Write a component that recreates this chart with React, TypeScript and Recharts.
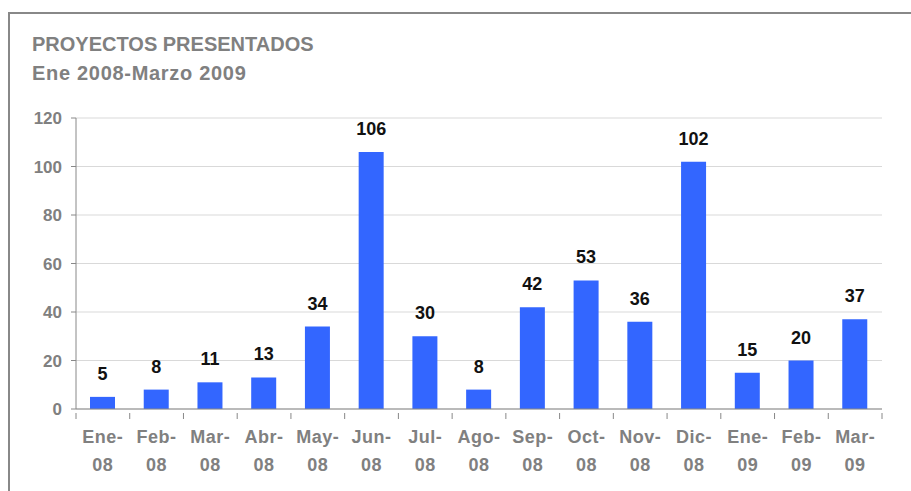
import React from 'react';
import { BarChart, Bar, XAxis, YAxis, CartesianGrid, LabelList } from 'recharts';

const months = ['Ene-08', 'Feb-08', 'Mar-08', 'Abr-08', 'May-08', 'Jun-08', 'Jul-08', 'Ago-08', 'Sep-08', 'Oct-08', 'Nov-08', 'Dic-08', 'Ene-09', 'Feb-09', 'Mar-09'];
const proyectos = [5, 8, 11, 13, 34, 106, 30, 8, 42, 53, 36, 102, 15, 20, 37];
const yTicks = [0, 20, 40, 60, 80, 100, 120];

const title = 'PROYECTOS PRESENTADOS';
const subtitle = 'Ene 2008-Marzo 2009';

const FONT = '"Liberation Sans", Arial, Helvetica, sans-serif';
const GREY = '#808080';

const W = 911;
const H = 491;
const PLOT_LEFT = 76;
const PLOT_RIGHT = 882;
const BAND = (PLOT_RIGHT - PLOT_LEFT) / months.length;

const data = months.map((m, i) => ({ month: m, value: proyectos[i] }));

const MonthTick = (props: any) => {
    const { x, y, payload, index } = props;
    const [name, year] = String(payload.value).split('-');
    const left = x - BAND / 2;
    const axisY = y - 4;
    return (
        <g>
            <line x1={left} y1={axisY} x2={left} y2={axisY + 6} stroke="#888" strokeWidth={1} />
            {index === months.length - 1 && (
                <line x1={left + BAND} y1={axisY} x2={left + BAND} y2={axisY + 6} stroke="#888" strokeWidth={1} />
            )}
            <text x={x} y={axisY + 30} textAnchor="middle" fill={GREY} fontSize={18} fontWeight="bold" fontFamily={FONT} letterSpacing={0.5}>
                {name}-
            </text>
            <text x={x} y={axisY + 58} textAnchor="middle" fill={GREY} fontSize={18} fontWeight="bold" fontFamily={FONT} letterSpacing={0.5}>
                {year}
            </text>
        </g>
    );
};

const ValueLabel = (props: any) => {
    const { x, y, width, value } = props;
    return (
        <text x={x + width / 2} y={y - 17} textAnchor="middle" fill="#111" fontSize={18} fontWeight="bold" fontFamily={FONT}>
            {value}
        </text>
    );
};

export default function App() {
    return (
        <div style={{ position: 'absolute', left: 0, top: 0, width: W, height: H, overflow: 'hidden', background: '#fff' }}>
            {/* frame */}
            <div style={{ position: 'absolute', left: 8, top: 12, width: W, height: H, borderLeft: '2px solid #888', borderTop: '2px solid #888' }} />
            <svg style={{ position: 'absolute', left: 0, top: 0 }} width={W} height={100}>
                <text x={32} y={51} fill={GREY} fontSize={20} fontWeight="bold" fontFamily={FONT}>{title}</text>
                <text x={32} y={80} fill={GREY} fontSize={20} fontWeight="bold" fontFamily={FONT} letterSpacing={0.7}>{subtitle}</text>
            </svg>
            <div style={{ position: 'absolute', left: 0, top: 0 }}>
                <BarChart width={W} height={H} data={data} margin={{ top: 118, right: W - PLOT_RIGHT, left: 0, bottom: 0 }} barSize={25}>
                    <CartesianGrid vertical={false} stroke="#d9d9d9" />
                    <XAxis
                        dataKey="month"
                        height={82}
                        interval={0}
                        axisLine={{ stroke: '#888' }}
                        tickLine={false}
                        tick={<MonthTick />}
                    />
                    <YAxis
                        width={PLOT_LEFT}
                        domain={[0, 120]}
                        ticks={yTicks}
                        axisLine={{ stroke: '#888' }}
                        tickLine={{ stroke: '#888' }}
                        tickSize={5}
                        tickMargin={9}
                        tick={{ fill: GREY, fontSize: 17, fontWeight: 'bold', fontFamily: FONT }}
                    />
                    <Bar dataKey="value" fill="#3366ff" isAnimationActive={false}>
                        <LabelList dataKey="value" content={<ValueLabel />} />
                    </Bar>
                </BarChart>
            </div>
        </div>
    );
}
